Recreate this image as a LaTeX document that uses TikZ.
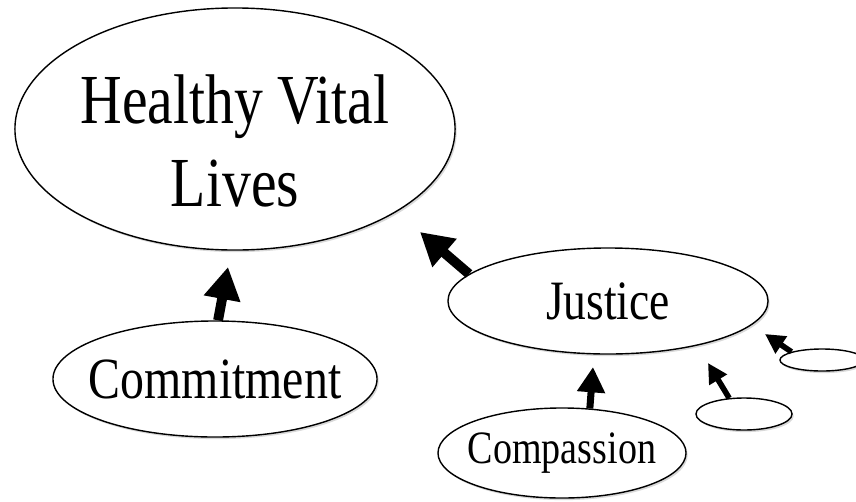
\documentclass[tikz,border=0pt]{standalone}
\usepackage{fontspec}
\setmainfont[FakeStretch=0.82]{Liberation Serif}
\usetikzlibrary{shapes.geometric,shadows,arrows.meta}

\begin{document}
\begin{tikzpicture}[
    x=0.025cm, y=-0.025cm,
    goal/.style={
        ellipse,
        draw,
        line width=1pt,
        fill=white,
        inner sep=-3cm,
        align=center,
        drop shadow={shadow xshift=1.2pt, shadow yshift=-1.5pt, opacity=0.3}
    },
    bigarr/.style={line width=7pt, -{Triangle[width=25pt, length=23pt]}},
    midarr/.style={line width=5pt, -{Triangle[width=19pt, length=18pt]}},
    smallarr/.style={line width=4pt, -{Triangle[width=14pt, length=14pt]}}
]

    \useasboundingbox (0,0) rectangle (856,501);

    % Top goal
    \node[
        goal,
        minimum width=11cm,
        minimum height=6.05cm,
        font=\fontsize{50}{59}\selectfont
    ] (healthy) at (235,129) {\rule{0pt}{52pt}Healthy Vital\\Lives};

    % Supporting values
    \node[
        goal,
        minimum width=8.1cm,
        minimum height=2.9cm,
        font=\fontsize{41.5}{46}\selectfont
    ] (commit) at (215,379) {Commitment};

    \node[
        goal,
        minimum width=8cm,
        minimum height=2.65cm,
        font=\fontsize{39.5}{44}\selectfont
    ] (justice) at (608,301) {Justice};

    \node[
        goal,
        minimum width=6.2cm,
        minimum height=2.25cm,
        font=\fontsize{33}{38}\selectfont
    ] (compass) at (562,453) {Compassion};

    % Empty ones
    \node[goal, minimum width=2.4cm, minimum height=0.8cm] (blankA) at (744,414) {};
    \node[goal, minimum width=2.1cm, minimum height=0.55cm] (blankB) at (822,360) {};

    % Arrow tips stop short of the ellipses
    \coordinate (tipC) at (228,267);
    \coordinate (tipJ) at (420,232);
    \coordinate (tipP) at (593,367);
    \coordinate (tipA) at (708,363);
    \coordinate (tipB) at (765,334);

    \draw[bigarr] (commit.87) -- (tipC);
    \draw[bigarr] (justice.169) -- (tipJ);
    \draw[midarr] (compass.58) -- (tipP);
    \draw[smallarr] (blankA.133) -- (tipA);
    \draw[smallarr] (blankB.165) -- (tipB);

\end{tikzpicture}
\end{document}
